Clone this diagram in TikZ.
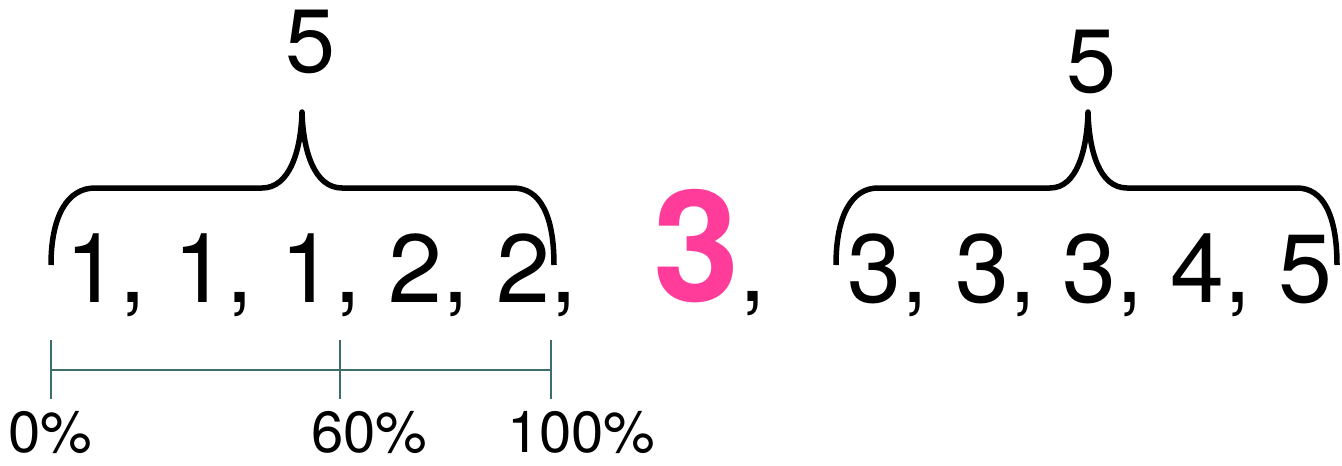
\documentclass[tikz,border=0pt]{standalone}
\usepackage{fontspec}
\setmainfont{TeX Gyre Heros}
\definecolor{hotpink}{HTML}{FF3C9A}
\definecolor{tealgray}{HTML}{3E6E6B}
\tikzset{
  numtext/.style={anchor=base west, inner sep=0pt, font=\fontsize{97}{100}\selectfont},
  toplabel/.style={anchor=base, inner sep=0pt, font=\fontsize{90}{94}\selectfont},
  pcttext/.style={anchor=base west, inner sep=0pt, font=\fontsize{58}{60}\selectfont},
  bracepath/.style={line width=5.5pt, line join=round, line cap=butt},
  scaleline/.style={draw=tealgray, line width=2pt},
}
\begin{document}
\begin{tikzpicture}[x=1pt, y=-1pt]
\useasboundingbox (0,0) rectangle (1342,466);
% numbers
\node[numtext] (left) at (65,302) {1, 1, 1, 2, 2,};
\node[anchor=base west, inner sep=0pt, font=\fontsize{155}{160}\selectfont\bfseries, text=hotpink] (median) at (653,301) {3};
\node[numtext, anchor=base west] (comma) at (median.base east) {,};
\node[numtext] (right) at (847,302) {3, 3, 3, 4, 5};
% top labels
\node[toplabel] (countL) at (311,72) {5};
\node[toplabel] (countR) at (1092,92) {5};
% braces
\draw[bracepath] (51,265) .. controls (51,215) and (68,188) .. (95,188) -- (262,188)
  .. controls (290,188) and (301,150) .. (302,112)
  .. controls (303,150) and (314,188) .. (342,188) -- (513,188)
  .. controls (540,188) and (554,215) .. (554,265);
\draw[bracepath] (836,265) .. controls (836,215) and (852,188) .. (878,188) -- (1050,188)
  .. controls (1077,188) and (1087,150) .. (1088,112)
  .. controls (1089,150) and (1099,188) .. (1127,188) -- (1297,188)
  .. controls (1323,188) and (1337,215) .. (1337,265);
% percentage scale
\coordinate (t0) at (51,370);
\coordinate (t60) at (340,370);
\coordinate (t100) at (551,370);
\draw[scaleline] (t0) -- (t60) -- (t100);
\draw[scaleline] ([yshift=-29pt]t0) -- ([yshift=30pt]t0);
\draw[scaleline] ([yshift=-29pt]t60) -- ([yshift=30pt]t60);
\draw[scaleline] ([yshift=-29pt]t100) -- ([yshift=30pt]t100);
\node[pcttext] (p0) at (8,452) {0\%};
\node[pcttext] (p60) at (311,452) {60\%};
\node[pcttext] (p100) at (507,452) {100\%};
\end{tikzpicture}
\end{document}
